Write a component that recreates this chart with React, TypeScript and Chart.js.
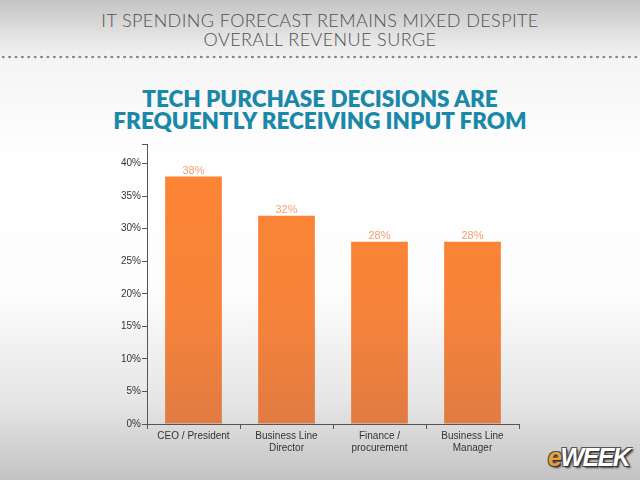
import React, { useEffect, useRef } from "react";
import { Chart, registerables } from "chart.js";

Chart.register(...registerables);

const categories: string[][] = [
  ["CEO / President"],
  ["Business Line", "Director"],
  ["Finance /", "procurement"],
  ["Business Line", "Manager"],
];
const values: number[] = [38, 32, 28, 28];
const yTicks: number[] = [0, 5, 10, 15, 20, 25, 30, 35, 40];
const headerLines: string[] = ["IT SPENDING FORECAST REMAINS MIXED DESPITE", "OVERALL REVENUE SURGE"];
const titleLines: string[] = ["TECH PURCHASE DECISIONS ARE", "FREQUENTLY RECEIVING INPUT FROM"];

const valueLabelPlugin = {
  id: "valueLabels",
  afterDatasetsDraw(chart: any) {
    const ctx = chart.ctx;
    const meta = chart.getDatasetMeta(0);
    ctx.save();
    ctx.font = "11px 'Liberation Sans', Arial, sans-serif";
    ctx.fillStyle = "#f1a172";
    ctx.textAlign = "center";
    ctx.textBaseline = "alphabetic";
    meta.data.forEach((bar: any, i: number) => {
      ctx.fillText(values[i] + "%", bar.x, bar.y - 2.5);
    });
    ctx.restore();
  },
};

export default function App() {
  const ref = useRef<HTMLCanvasElement>(null);
  useEffect(() => {
    if (!ref.current) return;
    const chart = new Chart(ref.current, {
      type: "bar",
      data: {
        labels: categories,
        datasets: [
          {
            data: values,
            backgroundColor: (c: any) => {
              const area = c.chart.chartArea;
              if (!area) return "#f98334";
              const g = c.chart.ctx.createLinearGradient(0, area.top, 0, area.bottom);
              g.addColorStop(0, "#fd8433");
              g.addColorStop(0.6, "#f7833a");
              g.addColorStop(1, "#e07b42");
              return g;
            },
            borderWidth: 0,
            barPercentage: 0.61,
            categoryPercentage: 1,
          },
        ],
      },
      options: {
        animation: false,
        responsive: false,
        maintainAspectRatio: false,
        layout: { padding: { top: 10, right: 11, left: 0, bottom: 0 } },
        plugins: { legend: { display: false }, tooltip: { enabled: false } },
        scales: {
          x: {
            offset: true,
            grid: {
              offset: true,
              drawOnChartArea: false,
              drawTicks: true,
              tickLength: 5,
              color: "#555",
            },
            border: { color: "#555", width: 1 },
            ticks: {
              color: "#333",
              padding: 1,
              font: { family: "'Liberation Sans', Arial, sans-serif", size: 10 },
              maxRotation: 0,
              autoSkip: false,
            },
            afterFit: (s: any) => {
              s.height = 40;
            },
          },
          y: {
            min: 0,
            max: 43,
            ticks: {
              stepSize: 5,
              color: "#333",
              padding: 1,
              font: { family: "'Liberation Sans', Arial, sans-serif", size: 10 },
              callback: (v: any) => (yTicks.includes(Number(v)) ? v + "%" : ""),
            },
            grid: {
              drawOnChartArea: false,
              drawTicks: true,
              tickLength: 5,
              color: "#555",
            },
            border: { color: "#555", width: 1 },
            afterFit: (s: any) => {
              s.width = 57;
            },
          },
        },
      },
      plugins: [valueLabelPlugin],
    });
    return () => chart.destroy();
  }, []);

  return (
    <div
      style={{
        position: "fixed",
        left: 0,
        top: 0,
        width: 640,
        height: 480,
        overflow: "hidden",
        background:
          "linear-gradient(to bottom, #c4c4c4 0px, #e2e2e2 35px, #f4f4f4 58px, #ffffff 160px, #fdfdfd 290px, #e6e6e6 400px, #c8c8c8 470px, #c2c2c2 480px)",
      }}
    >
      <div
        style={{
          position: "absolute",
          top: 11,
          left: 0,
          width: 640,
          textAlign: "center",
          fontFamily: "Lato, 'Open Sans', sans-serif",
          fontWeight: 300,
          fontSize: 18,
          lineHeight: "19px",
          color: "#505050",
          letterSpacing: 0.4,
        }}
      >
        {headerLines.map((l, i) => (
          <div key={i}>{l}</div>
        ))}
      </div>
      <div
        style={{
          position: "absolute",
          top: 55,
          left: 0,
          width: 640,
          height: 4,
          backgroundImage: "radial-gradient(circle, #8a8a8a 1.2px, transparent 1.6px)",
          backgroundSize: "6.4px 4px",
        }}
      />
      <div
        style={{
          position: "absolute",
          top: 88,
          left: 0,
          width: 640,
          textAlign: "center",
          fontFamily: "Lato, 'Open Sans', sans-serif",
          fontWeight: 800,
          fontSize: 22.5,
          lineHeight: "21.5px",
          color: "#1a88a8",
        }}
      >
        {titleLines.map((l, i) => (
          <div key={i}>{l}</div>
        ))}
      </div>
      <canvas
        ref={ref}
        width={440}
        height={330}
        style={{ position: "absolute", left: 90, top: 134, width: 440, height: 330 }}
      />
      <div
        style={{
          position: "absolute",
          left: 548,
          top: 443,
          fontFamily: "'Liberation Sans', Arial, sans-serif",
          fontWeight: 700,
          fontStyle: "italic",
          fontSize: 25,
          letterSpacing: -1.5,
          textShadow: "1px 1px 0 #333, -1px -1px 0 #555, 1px -1px 0 #555, -1px 1px 0 #555, 2px 2px 2px #444",
        }}
      >
        <span style={{ color: "#e8a23a" }}>e</span>
        <span style={{ color: "#ffffff" }}>WEEK</span>
      </div>
    </div>
  );
}
